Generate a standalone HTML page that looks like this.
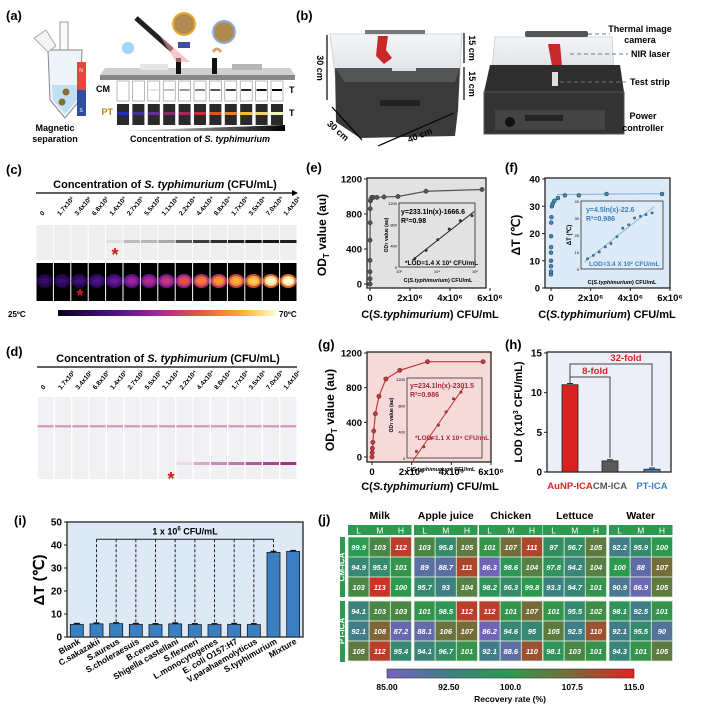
<!DOCTYPE html>
<html><head><meta charset="utf-8"><style>
html,body{margin:0;padding:0;background:#fff;}
svg{display:block;font-family:"Liberation Sans",Arial,sans-serif;}
.b{font-weight:bold;}
</style></head><body>
<svg id="fig" width="704" height="711" viewBox="0 0 704 711" xmlns="http://www.w3.org/2000/svg">
<defs>
<linearGradient id="inferno" x1="0" x2="1" y1="0" y2="0">
<stop offset="0" stop-color="#05041a"/><stop offset="0.25" stop-color="#4a0f8a"/><stop offset="0.45" stop-color="#a3249a"/><stop offset="0.65" stop-color="#e8553e"/><stop offset="0.85" stop-color="#fbb32c"/><stop offset="1" stop-color="#fcfdd0"/></linearGradient>
<linearGradient id="recov" x1="0" x2="1" y1="0" y2="0">
<stop offset="0" stop-color="#7a5fc0"/><stop offset="0.25" stop-color="#3e7e86"/><stop offset="0.5" stop-color="#2a9b4e"/><stop offset="0.75" stop-color="#7a6a38"/><stop offset="1" stop-color="#e62020"/></linearGradient>
<linearGradient id="ramp" x1="0" x2="1"><stop offset="0" stop-color="#fff"/><stop offset="1" stop-color="#000"/></linearGradient>
<linearGradient id="glass" x1="0" x2="0" y1="0" y2="1"><stop offset="0" stop-color="#f4f6f8"/><stop offset="1" stop-color="#dde2e6"/></linearGradient>
</defs>

<!-- (a) -->
<g>
<text x="6" y="20" class="b" font-size="13">(a)</text>
<g>
<rect x="60" y="22" width="8" height="30" fill="#fafafa" stroke="#999" stroke-width="1"/>
<path d="M48 50 L82 50 L80 100 L65 118 L50 100 Z" fill="#eef4fa" stroke="#888" stroke-width="1"/>
<path d="M52 85 L78 85 L77 100 L65 114 L53 100 Z" fill="#bfe0f3"/>
<path d="M34 38 L46 30 L56 46 L48 52 Z" fill="#f4f4f4" stroke="#999" stroke-width="0.8"/>
<circle cx="66" cy="92" r="3.5" fill="#8a6a3a"/><circle cx="62" cy="102" r="3.5" fill="#8a6a3a"/>
<rect x="77" y="62" width="9" height="28" fill="#e8463a"/><rect x="77" y="90" width="9" height="26" fill="#2e4fa0"/>
<text x="81" y="72" font-size="5" fill="#fff" text-anchor="middle">N</text>
<text x="81" y="112" font-size="5" fill="#fff" text-anchor="middle">S</text>
</g>
<text x="55" y="131" class="b" font-size="9" text-anchor="middle">Magnetic</text>
<text x="55" y="142" class="b" font-size="9" text-anchor="middle">separation</text>
<g>
<path d="M105 68 L290 68 L295 75 L100 75 Z" fill="#cfcfcf"/>
<rect x="100" y="75" width="195" height="5" fill="#888"/>
<rect x="140" y="64" width="28" height="6" fill="#e6e6e6"/><rect x="232" y="64" width="30" height="6" fill="#b5b5b5"/>
<rect x="176" y="58" width="5" height="16" fill="#111"/><rect x="212" y="58" width="5" height="16" fill="#111"/>
<line x1="136" y1="18" x2="172" y2="50" stroke="#222" stroke-width="5"/>
<path d="M160 36 L190 62 L176 62 Z" fill="#f2a0a0" opacity="0.6"/>
<circle cx="184" cy="24" r="11" fill="#b08a50" stroke="#e8b030" stroke-width="2"/>
<circle cx="224" cy="32" r="11" fill="#b08a50" stroke="#8fb0d8" stroke-width="2"/>
<path d="M178 42 h12 v6 h-12z" fill="#4050a0"/><path d="M213 52 q4 -6 8 0" stroke="#e0a070" stroke-width="3" fill="none"/>
<circle cx="128" cy="48" r="6" fill="#9fd4f4"/>
</g>
<text x="110" y="92" class="b" font-size="9" text-anchor="end">CM</text>
<text x="113" y="115" class="b" font-size="9" fill="#b8860b" text-anchor="end">PT</text>
<text x="289" y="93" class="b" font-size="9">T</text>
<text x="289" y="116" class="b" font-size="9">T</text>
<g id="a-strips"></g>
<path d="M117 131 L285 125 L285 131 Z" fill="url(#ramp)"/>
<text x="200" y="142" class="b" font-size="9" text-anchor="middle">Concentration of <tspan font-style="italic">S. typhimurium</tspan></text>
</g>

<!-- (b) -->
<g>
<text x="296" y="20" class="b" font-size="13">(b)</text>
<g>
<path d="M330 34 L462 34 L460 75 L335 75 Z" fill="url(#glass)" stroke="#ccc" stroke-width="0.8"/>
<path d="M335 68 L460 68 L458 110 L455 136 L360 138 L336 122 Z" fill="#3a3a3a"/>
<path d="M335 68 L460 68 L455 82 L345 82 Z" fill="#555"/>
<rect x="365" y="30" width="60" height="4" fill="#777"/>
<path d="M378 36 l10 0 l-2 14 l6 8 l-8 6 l-8 -8z" fill="#c8282a"/>
<rect x="392" y="68" width="24" height="3" fill="#ddd"/>
<rect x="380" y="100" width="40" height="6" fill="#222"/>
</g>
<g stroke="#000" stroke-width="1.2">
<line x1="327" y1="35" x2="327" y2="100"/><line x1="464" y1="33" x2="464" y2="63"/><line x1="464" y1="67" x2="464" y2="100"/>
<line x1="332" y1="107" x2="362" y2="140"/><line x1="378" y1="146" x2="454" y2="113"/>
</g>
<text transform="translate(317 68) rotate(90)" class="b" font-size="9" text-anchor="middle">30 cm</text>
<text transform="translate(469 48) rotate(90)" class="b" font-size="9" text-anchor="middle">15 cm</text>
<text transform="translate(469 84) rotate(90)" class="b" font-size="9" text-anchor="middle">15 cm</text>
<text transform="translate(336 133) rotate(42)" class="b" font-size="9" text-anchor="middle">30 cm</text>
<text transform="translate(421 138) rotate(-22)" class="b" font-size="9" text-anchor="middle">40 cm</text>
<g>
<path d="M495 37 L612 37 L614 70 L492 70 Z" fill="url(#glass)" stroke="#ccc" stroke-width="0.8"/>
<rect x="525" y="31" width="63" height="6" rx="2" fill="#555"/>
<path d="M548 44 l12 0 l2 22 l-10 0z" fill="#c8282a"/>
<path d="M490 65 L620 65 L624 92 L484 92 Z" fill="#2e2e2e"/>
<rect x="484" y="92" width="140" height="42" fill="#333" stroke="#555"/>
<rect x="495" y="110" width="110" height="20" fill="#444"/>
<rect x="525" y="115" width="38" height="6" fill="#222"/>
<circle cx="510" cy="122" r="5" fill="#111"/>
<rect x="552" y="72" width="6" height="14" fill="#ddd"/>
</g>
<g stroke="#777" stroke-dasharray="4 3" stroke-width="1">
<line x1="588" y1="34" x2="610" y2="34"/><line x1="570" y1="54" x2="628" y2="54"/><line x1="560" y1="82" x2="626" y2="82"/>
</g>
<text x="640" y="32" class="b" font-size="9" text-anchor="middle">Thermal image</text>
<text x="640" y="43" class="b" font-size="9" text-anchor="middle">camera</text>
<text x="631" y="57" class="b" font-size="9">NIR laser</text>
<text x="630" y="85" class="b" font-size="9">Test strip</text>
<text x="643" y="119" class="b" font-size="9" text-anchor="middle">Power</text>
<text x="643" y="131" class="b" font-size="9" text-anchor="middle">controller</text>
</g>

<!-- (c) -->
<g>
<text x="6" y="174" class="b" font-size="13">(c)</text>
<text x="165" y="188" class="b" font-size="11" text-anchor="middle">Concentration of <tspan font-style="italic">S. typhimurium</tspan> (CFU/mL)</text>
<line x1="36" y1="193" x2="294" y2="193" stroke="#000" stroke-width="1.2"/>
<path d="M298 193 L292 190 L292 196 Z" fill="#000"/>
<g id="c-strips"></g>
<rect x="58" y="310" width="218" height="6" fill="url(#inferno)"/>
<text x="8" y="317" class="b" font-size="8">25ºC</text>
<text x="279" y="317" class="b" font-size="8">70ºC</text>
<text x="115" y="261" fill="#d01818" font-size="18" class="b" text-anchor="middle">*</text>
<text x="80" y="302" fill="#d01818" font-size="18" class="b" text-anchor="middle">*</text>
</g>

<!-- (d) -->
<g>
<text x="6" y="356" class="b" font-size="13">(d)</text>
<text x="168" y="362" class="b" font-size="11" text-anchor="middle">Concentration of <tspan font-style="italic">S. typhimurium</tspan> (CFU/mL)</text>
<line x1="37" y1="367" x2="297" y2="367" stroke="#000" stroke-width="1.2"/>
<g id="d-strips"></g>
<text x="171" y="485" fill="#d01818" font-size="18" class="b" text-anchor="middle">*</text>
</g>

<g id="charts"></g>

<text x="306" y="172" class="b" font-size="13">(e)</text>
<text x="505" y="172" class="b" font-size="13">(f)</text>
<text x="318" y="349" class="b" font-size="13">(g)</text>
<text x="505" y="349" class="b" font-size="13">(h)</text>
<text x="14" y="525" class="b" font-size="13">(i)</text>
<text x="318" y="524" class="b" font-size="13">(j)</text>
</svg>
<script>
const NS='http://www.w3.org/2000/svg';
const svg=document.getElementById('fig');
function mk(tag,attrs,parent){const e=document.createElementNS(NS,tag);for(const k in attrs)e.setAttribute(k,attrs[k]);(parent||svg).appendChild(e);return e;}
function tx(s,x,y,attrs,parent){const t=mk('text',Object.assign({x:x,y:y},attrs),parent);t.textContent=s;return t;}

// ---------- data ----------
const concLabels=["0","1.7x10²","3.4x10²","6.8x10²","1.4x10³","2.7x10³","5.5x10³","1.1x10⁴","2.2x10⁴","4.4x10⁴","8.8x10⁴","1.7x10⁵","3.5x10⁵","7.0x10⁵","1.4x10⁶"];
const cBand=[0,0,0,0,0.05,0.2,0.22,0.28,0.6,0.75,0.8,0.85,0.9,0.9,0.88];
const cHeat=[0.13,0.14,0.16,0.2,0.27,0.38,0.43,0.48,0.58,0.68,0.73,0.78,0.84,0.94,0.95];
const dBand=[0,0,0,0,0,0,0,0,0.1,0.35,0.5,0.6,0.75,0.85,0.95];
const aCM=[0,0,0.1,0.25,0.4,0.5,0.65,0.75,0.85,0.95,1];
const aPT=["#2030c0","#4a2aa8","#6a2a9a","#8a2a70","#b02060","#d02a3a","#e85020","#f08020","#f0c030","#f0d860","#f0f0c0"];

const eX=[0,170,340,680,1400,2700,5500,11000,22000,44000,88000,170000,350000,700000,1400000,2800000,5600000];
const eY=[0,0,60,140,270,500,700,860,950,970,990,990,990,995,1000,1060,1080];
const eInX=[680,2700,11000,44000,170000,700000];
const eInY=[156,312,512,712,868,962];
const fY=[5,6,8,10,13,15,19,24,26,30,31,32,33,34,34,34.5,34.5];
const fInX=[170,340,680,1400,2700,5500,11000,22000,44000,88000,170000,350000];
const fInY=[6,8,10,13,15,19,24,26,30,31,32,33];
const gX=[0,11000,22000,44000,88000,170000,350000,700000,1400000,2800000,5600000];
const gY=[0,50,100,170,300,500,700,900,1000,1100,1100];
const gInX=[22000,44000,88000,170000,350000,700000,1400000];
const gInY=[100,170,300,500,700,900,1000];
const hCats=["AuNP-ICA","CM-ICA","PT-ICA"];
const hVals=[11.0,1.4,0.35];
const iCats=["Blank","C.sakazakii","S.aureus","S.choleraesuis","B.cereus","Shigella castellani","S.flexneri","L.monocytogenes","E. coli O157:H7","V.parahaemolyticus","S.typhimurium","Mixture"];
const iVals=[5.5,5.7,5.8,5.5,5.4,5.7,5.4,5.4,5.5,5.4,36.8,37.2];
const jGroups=["Milk","Apple juice","Chicken","Lettuce","Water"];
const jCM=[
 [[99.9,103,112],[94.9,95.9,101],[103,113,100]],
 [[103,95.8,105],[89,88.7,111],[95.7,93,104]],
 [[101,107,111],[86.3,98.6,104],[98.2,96.3,99.8]],
 [[97,96.7,105],[97.8,94.2,104],[93.3,94.7,101]],
 [[92.2,95.9,100],[100,88,107],[90.9,86.9,105]]];
const jPT=[
 [[94.1,103,103],[92.1,108,87.2],[105,112,95.4]],
 [[101,98.5,112],[88.1,106,107],[94.1,96.7,101]],
 [[112,101,107],[86.2,94.6,95],[92.1,88.6,110]],
 [[101,95.5,102],[105,92.5,110],[98.1,103,101]],
 [[98.1,92.5,101],[92.1,95.5,90],[94.3,101,105]]];
const jTicks=["85.00","92.50","100.0","107.5","115.0"];

// ---------- (a) strips ----------
const aG=document.getElementById('a-strips');
aCM.forEach((v,i)=>{
 const x=117+i*15.4;
 const r=mk('rect',{x:x,y:81,width:12,height:20,fill:'#fff',stroke:'#888','stroke-width':0.6},aG);
 
 
 const g=Math.round(255*(1-v));
 mk('rect',{x:x+1,y:89,width:10,height:2,fill:`rgb(${g},${g},${g})`},aG);
 const p=mk('rect',{x:x,y:104,width:12,height:21,fill:'#2a2a2a'},aG);
 
 
 mk('rect',{x:x,y:112,width:12,height:3,fill:aPT[i]},aG);
});

// ---------- (c) ----------
const cG=document.getElementById('c-strips');
function infernoColor(t){
 const st=[[0,[5,4,26]],[0.25,[74,15,138]],[0.45,[163,36,154]],[0.65,[232,85,62]],[0.85,[251,179,44]],[1,[252,253,208]]];
 for(let k=1;k<st.length;k++){if(t<=st[k][0]){const a=st[k-1],b=st[k];const f=(t-a[0])/(b[0]-a[0]);return 'rgb('+a[1].map((c,j)=>Math.round(c+(b[1][j]-c)*f)).join(',')+')';}}
 return 'rgb(252,253,208)';
}
const cw=(297-36)/15;
concLabels.forEach((lab,i)=>{
 const x=36+i*cw;
 const t=tx(lab,0,0,{'font-size':6.5,'class':'b',transform:`translate(${x+cw/2-2} 216) rotate(-50)`},cG);
 
 
 const s=mk('rect',{x:x+0.5,y:225,width:cw-1,height:35,fill:'#efefef'},cG);
 
 
 if(cBand[i]>0){const g=Math.round(235*(1-cBand[i]));mk('rect',{x:x+0.5,y:240,width:cw-1,height:3,fill:`rgb(${g},${g},${g})`},cG);}
 const th=mk('rect',{x:x+0.5,y:263,width:cw-1,height:38,fill:'#000'},cG);
 
 
 mk('ellipse',{cx:x+cw/2,cy:281,rx:cw/2-0.5,ry:7,fill:infernoColor(cHeat[i]*0.75),opacity:0.9},cG);
 mk('ellipse',{cx:x+cw/2,cy:281,rx:cw/2-2.5,ry:5,fill:infernoColor(cHeat[i])},cG);
 mk('ellipse',{cx:x+cw/2,cy:281,rx:cw/4,ry:2.5,fill:infernoColor(Math.min(1,cHeat[i]+0.06))},cG);
});
// (d)
const dG=document.getElementById('d-strips');
concLabels.forEach((lab,i)=>{
 const x=37+i*(260/15);
 const w=260/15;
 const t=tx(lab,0,0,{'font-size':6.5,'class':'b',transform:`translate(${x+w/2-2} 390) rotate(-50)`},dG);
 
 
 const s=mk('rect',{x:x+0.7,y:397,width:w-1.4,height:82,fill:'#f1f0f2'},dG);
 
 
 mk('rect',{x:x+0.7,y:425,width:w-1.4,height:2.5,fill:'#d49cc6'},dG);
 if(dBand[i]>0){mk('rect',{x:x+0.7,y:462,width:w-1.4,height:3,fill:'#9a2a78',opacity:dBand[i]},dG);}
});

// ---------- chart helpers ----------
const C=document.getElementById('charts');
function lin(d0,d1,p0,p1){return v=>p0+(v-d0)/(d1-d0)*(p1-p0);}
function logs(d0,d1,p0,p1){return v=>p0+(Math.log10(v)-d0)/(d1-d0)*(p1-p0);}
function frame(x0,y0,x1,y1,bg,name){const r=mk('rect',{x:x0,y:y0,width:x1-x0,height:y1-y0,fill:bg,stroke:'#222','stroke-width':1.3},C);return r;}
function yTicks(vals,ys,x0,fs,name){vals.forEach(v=>{mk('line',{x1:x0-3,x2:x0,y1:ys(v),y2:ys(v),stroke:'#222'},C);const t=tx(String(v),x0-5,ys(v)+3.5,{'font-size':fs,'class':'b','text-anchor':'end'},C);});}
const bigXLabels=["0","2x10⁶","4x10⁶","6x10⁶"];
const bigXVals=[0,2e6,4e6,6e6];
function xTicksBig(xs,y1,name){bigXVals.forEach((v,k)=>{mk('line',{x1:xs(v),x2:xs(v),y1:y1,y2:y1+3,stroke:'#222'},C);const t=tx(bigXLabels[k],xs(v),y1+13,{'font-size':9.5,'class':'b','text-anchor':'middle'},C);});}
function series(X,Y,xs,ys,col,r,name,line){
 if(line){const p=mk('polyline',{points:X.map((v,k)=>xs(v)+','+ys(Y[k])).join(' '),fill:'none',stroke:col,'stroke-width':1.2},C);}
 X.forEach((v,k)=>{const c=mk('circle',{cx:xs(v),cy:ys(Y[k]),r:r,fill:col,stroke:'#222','stroke-width':0.4},C);});
}
function fitLine(X,Y,xs,ys,col,name){
 const lx=X.map(v=>Math.log10(v));const n=lx.length;const mx=lx.reduce((a,b)=>a+b)/n,my=Y.reduce((a,b)=>a+b)/n;
 let sxy=0,sxx=0;lx.forEach((v,k)=>{sxy+=(v-mx)*(Y[k]-my);sxx+=(v-mx)*(v-mx);});const b=sxy/sxx,a=my-b*mx;
 const xa=X[0]/1.4,xb=X[n-1]*1.3;
 const l=mk('line',{x1:xs(xa),y1:ys(a+b*Math.log10(xa)),x2:xs(xb),y2:ys(a+b*Math.log10(xb)),stroke:col,'stroke-width':1},C);
 
}
function ytitle(s,x,y,fs,name){const t=tx('',0,0,{'font-size':fs,'class':'b','text-anchor':'middle',transform:`translate(${x} ${y}) rotate(-90)`},C);t.innerHTML=s;return t;}
function label(s,x,y,attrs,name){const t=tx('',x,y,attrs,C);t.innerHTML=s;return t;}
const xTitle='C(<tspan font-style="italic">S.typhimurium</tspan>) CFU/mL';

// ---------- (e) ----------
{const xs=lin(0,6e6,370,490),ys=lin(0,1200,284,179);
frame(367,178,486,288,'#e2e2e2','e-plot-area');
yTicks([0,400,800,1200],ys,367,9.5,'e-y-tick');xTicksBig(xs,288,'e-x-tick');
series(eX,eY,xs,ys,'#555',2.2,'e-series',true);
ytitle('OD<tspan font-size="8" dy="3">T</tspan><tspan dy="-3"> value (au)</tspan>',326,235,12,'e-y-title');
label(xTitle,430,318,{'font-size':11,'class':'b','text-anchor':'middle'},'e-x-title');
const ix=logs(2,6,399,475),iy=lin(0,1200,267,203);
const r=mk('rect',{x:399,y:203,width:76,height:64,fill:'none',stroke:'#222','stroke-width':0.8},C);
fitLine(eInX,eInY,ix,iy,'#222','e-inset-fit');series(eInX,eInY,ix,iy,'#333',1.3,'e-inset',false);
[0,400,800,1200].forEach(v=>label(String(v),397,iy(v)+2,{'font-size':4,'text-anchor':'end'},'e-inset-y-tick'));
[["10²",2],["10⁴",4],["10⁶",6]].forEach(a=>label(a[0],ix(Math.pow(10,a[1])),273,{'font-size':4,'text-anchor':'middle'},'e-inset-x-tick'));
label('OD<tspan font-size="4">T</tspan> value (au)',0,0,{'font-size':5,'class':'b','text-anchor':'middle',transform:'translate(388 235) rotate(-90)'},'e-inset-y-title');
label(xTitle,438,282,{'font-size':5.5,'class':'b','text-anchor':'middle'},'e-inset-x-title');
label('y=233.1ln(x)-1666.6',401,214,{'font-size':7,'class':'b'},'e-equation');
label('R²=0.98',401,223,{'font-size':7,'class':'b'},'e-r2');
label('*LOD=1.4 X 10³ CFU/mL',405,265,{'font-size':6.5,'class':'b'},'e-lod');}

// ---------- (f) ----------
{const xs=lin(0,6e6,551,670),ys=lin(0,40,288,179);
frame(545,178,670,288,'#dcebf7','f-plot-area');
yTicks([0,10,20,30,40],ys,545,9.5,'f-y-tick');xTicksBig(xs,288,'f-x-tick');
const l=mk('line',{x1:xs(3e5),x2:xs(5.6e6),y1:ys(34.3),y2:ys(34.6),stroke:'#7ab0d8','stroke-width':1},C);
series(eX,fY,xs,ys,'#3a88c0',2,'f-series',false);
ytitle('ΔT (℃)',520,235,12,'f-y-title');
label(xTitle,607,318,{'font-size':11,'class':'b','text-anchor':'middle'},'f-x-title');
const ix=logs(2,6,583,661),iy=lin(0,40,269,201);
const r=mk('rect',{x:581,y:201,width:82,height:68,fill:'none',stroke:'#333','stroke-width':0.8},C);
fitLine(fInX,fInY,ix,iy,'#8ab8dc','f-inset-fit');series(fInX,fInY,ix,iy,'#3a88c0',1.2,'f-inset',false);
[0,10,20,30,40].forEach(v=>label(String(v),579,iy(v)+2,{'font-size':4,'text-anchor':'end'},'f-inset-y-tick'));
label('ΔT (℃)',0,0,{'font-size':6,'class':'b','text-anchor':'middle',transform:'translate(571 235) rotate(-90)'},'f-inset-y-title');
label(xTitle,622,284,{'font-size':5.5,'class':'b','text-anchor':'middle'},'f-inset-x-title');
label('y=4.5ln(x)-22.6',586,212,{'font-size':7,'class':'b',fill:'#3a80b8'},'f-equation');
label('R²=0.986',586,221,{'font-size':7,'class':'b',fill:'#3a80b8'},'f-r2');
label('LOD=3.4 X 10² CFU/mL',589,266,{'font-size':6.5,'class':'b',fill:'#3a80b8'},'f-lod');}

// ---------- (g) ----------
{const xs=lin(0,6e6,372,491),ys=lin(0,1200,457,353);
frame(367,352,491,462,'#f6d9d9','g-plot-area');
yTicks([0,400,800,1200],ys,367,9.5,'g-y-tick');xTicksBig(xs,462,'g-x-tick');
series(gX,gY,xs,ys,'#c43838',2.2,'g-series',true);
ytitle('OD<tspan font-size="8" dy="3">T</tspan><tspan dy="-3"> value (au)</tspan>',334,410,12,'g-y-title');
label(xTitle,430,490,{'font-size':11,'class':'b','text-anchor':'middle'},'g-x-title');
const ix=logs(4,7,408,482),iy=lin(0,1200,458,379);
const r=mk('rect',{x:407,y:378,width:75,height:80,fill:'none',stroke:'#333','stroke-width':0.8},C);
fitLine(gInX,gInY,ix,iy,'#c43838','g-inset-fit');series(gInX,gInY,ix,iy,'#c43838',1.3,'g-inset',false);
[0,400,800,1200].forEach(v=>label(String(v),405,iy(v)+2,{'font-size':4,'text-anchor':'end'},'g-inset-y-tick'));
label('OD<tspan font-size="4">T</tspan> value (au)',0,0,{'font-size':5,'class':'b','text-anchor':'middle',transform:'translate(393 415) rotate(-90)'},'g-inset-y-title');
label(xTitle,441,471,{'font-size':5.5,'class':'b','text-anchor':'middle'},'g-inset-x-title');
label('y=234.1ln(x)-2301.5',410,388,{'font-size':7,'class':'b',fill:'#a82a3a'},'g-equation');
label('R²=0.986',410,397,{'font-size':7,'class':'b',fill:'#a82a3a'},'g-r2');
label('*LOD=1.1 X 10⁴ CFU/mL',415,440,{'font-size':6.5,'class':'b',fill:'#a82a3a'},'g-lod');}

// ---------- (h) ----------
{const ys=lin(0,15,472,353);const cx=[570,610,652];const cols=['#d82222','#5a5a5a','#3a88c8'];const lcol=['#d82222','#555','#3a80c0'];
frame(547,352,671,472,'#eceff7','h-plot-area');
yTicks([0,5,10,15],ys,547,10,'h-y-tick');
hVals.forEach((v,k)=>{const b=mk('rect',{x:cx[k]-8,y:ys(v),width:16,height:472-ys(v),fill:cols[k],stroke:'#222','stroke-width':0.8},C);
 mk('line',{x1:cx[k]-3,x2:cx[k]+3,y1:ys(v+0.15),y2:ys(v+0.15),stroke:'#222'},C);
 label(hCats[k],cx[k],489,{'font-size':9.5,'class':'b','text-anchor':'middle',fill:lcol[k]},'h-category-label');});
const br=mk('path',{d:`M${cx[0]} ${ys(hVals[0]+0.2)} V364 H${cx[2]} V${ys(hVals[2]+0.4)} M${cx[0]} 377 H${cx[1]} V${ys(hVals[1]+0.4)}`,fill:'none',stroke:'#444','stroke-width':1},C);
label('32-fold',626,361,{'font-size':9.5,'class':'b',fill:'#d82222','text-anchor':'middle'},'fold-32-label');
label('8-fold',595,374,{'font-size':9.5,'class':'b',fill:'#d82222','text-anchor':'middle'},'fold-8-label');
ytitle('LOD (x10<tspan font-size="7" dy="-4">3</tspan><tspan dy="4"> CFU/mL)</tspan>',522,412,11,'h-y-title');}

// ---------- (i) ----------
{const x0=67,x1=303,ys=lin(0,50,637,522);const bw=(x1-x0)/iCats.length;
frame(x0,522,x1,637,'#dde9f5','i-plot-area');
yTicks([0,10,20,30,40,50],ys,x0,10,'i-y-tick');
const dash=mk('line',{x1:x0+bw*1.5,x2:x0+bw*10.5,y1:ys(42.5),y2:ys(42.5),stroke:'#222','stroke-width':1},C);
label('1 x 10<tspan font-size="6" dy="-4">6</tspan><tspan dy="4"> CFU/mL</tspan>',x0+bw*6,ys(44.5),{'font-size':9,'class':'b','text-anchor':'middle'},'i-bracket-label');
iVals.forEach((v,k)=>{const cx=x0+bw*(k+0.5);
 if(k>=1&&k<=10){const d=mk('line',{x1:cx,x2:cx,y1:ys(42.5),y2:ys(v),stroke:'#222','stroke-dasharray':'3 2','stroke-width':1},C);}
 const b=mk('rect',{x:cx-6.5,y:ys(v),width:13,height:637-ys(v),fill:'#3a7fc2',stroke:'#1a1a1a','stroke-width':0.8},C);
 mk('line',{x1:cx-3,x2:cx+3,y1:ys(v+0.4),y2:ys(v+0.4),stroke:'#111','stroke-width':1.2},C);
 label(iCats[k],0,0,{'font-size':8.5,'class':'b','text-anchor':'end',transform:`translate(${cx+4} 643) rotate(-30)`},'i-category-label');});
ytitle('ΔT (℃)',44,580,15,'i-y-title');}

// ---------- (j) ----------
{const gx=[348,414,479,543,609];const gw=63.5;const cw=gw/3;const rowH=20;const cmY=537,ptY=601;
const norm=lin(85,115,0,1);
function rc(v){const t=Math.max(0,Math.min(1,norm(v)));const st=[[0,[122,95,192]],[0.25,[62,126,134]],[0.5,[42,155,78]],[0.75,[122,106,56]],[1,[230,32,32]]];
 for(let k=1;k<st.length;k++){if(t<=st[k][0]){const a=st[k-1],b=st[k];const f=(t-a[0])/(b[0]-a[0]);return 'rgb('+a[1].map((c,j)=>Math.round(c+(b[1][j]-c)*f)).join(',')+')';}}return 'rgb(230,32,32)';}
const s1=mk('rect',{x:340,y:cmY,width:5,height:60,fill:'#2e9a50'},C);
const s2=mk('rect',{x:340,y:ptY,width:5,height:61,fill:'#2e9a50'},C);
label('CM-ICA',0,0,{'font-size':8,'class':'b',fill:'#fff','text-anchor':'middle',transform:`translate(344.5 567) rotate(-90)`},'cm-ica-label');
label('PT-ICA',0,0,{'font-size':8,'class':'b',fill:'#fff','text-anchor':'middle',transform:`translate(344.5 631) rotate(-90)`},'pt-ica-label');
jGroups.forEach((g,gi)=>{
 label(g,gx[gi]+gw/2,519,{'font-size':10.5,'class':'b','text-anchor':'middle'},'j-group-title');
 const hb=mk('rect',{x:gx[gi],y:525,width:gw,height:10,fill:'#2e9a50'},C);
 ['L','M','H'].forEach((h,hi)=>label(h,gx[gi]+cw*(hi+0.5),533.5,{'font-size':8.5,fill:'#fff','text-anchor':'middle'},'j-level-label'));
 [[jCM,cmY],[jPT,ptY]].forEach(([M,y0])=>{
  M[gi].forEach((row,ri)=>row.forEach((v,ci)=>{
   const r=mk('rect',{x:gx[gi]+ci*cw,y:y0+ri*rowH,width:cw,height:rowH,fill:rc(v),stroke:'#d8ecd8','stroke-width':0.8},C);
   
   
   label(String(v),gx[gi]+ci*cw+cw/2,y0+ri*rowH+rowH/2+3,{'font-size':7.5,'class':'b','font-style':'italic',fill:'#fff','text-anchor':'middle'},'j-cell-value');
  }));
 });
});
const cb=mk('rect',{x:387,y:669,width:247,height:9,fill:'url(#recov)',stroke:'#333','stroke-width':0.6},C);
jTicks.forEach((t,k)=>label(t,387+k*247/4,690,{'font-size':8.5,'class':'b','text-anchor':'middle'},'recovery-tick'));
label('Recovery rate (%)',510,702,{'font-size':8.5,'class':'b','text-anchor':'middle'},'recovery-title');}
</script>
</body></html>
